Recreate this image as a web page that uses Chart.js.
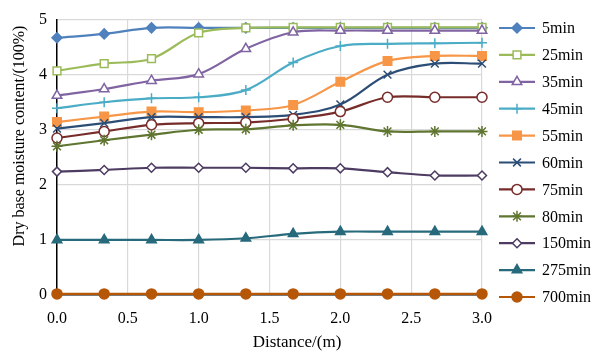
<!DOCTYPE html>
<html><head><meta charset="utf-8">
<script src="https://cdn.jsdelivr.net/npm/chart.js@4/dist/chart.umd.min.js"></script>
<style>html,body{margin:0;padding:0;background:#fff}#wrap{width:594px;height:352px}</style>
</head><body><div id="wrap"><canvas id="c" width="594" height="352"></canvas></div>
<script>
const distances = [0, 0.333, 0.667, 1.0, 1.333, 1.667, 2.0, 2.333, 2.667, 3.0];
const seriesNames = ['5min','25min','35min','45min','55min','60min','75min','80min','150min','275min','700min'];
const m5   = [4.67, 4.74, 4.85, 4.85, 4.85, 4.85, 4.85, 4.85, 4.85, 4.85];
const m25  = [4.07, 4.20, 4.29, 4.76, 4.85, 4.86, 4.86, 4.86, 4.86, 4.86];
const m35  = [3.62, 3.74, 3.89, 4.01, 4.47, 4.77, 4.80, 4.80, 4.80, 4.80];
const m45  = [3.39, 3.50, 3.57, 3.59, 3.72, 4.22, 4.52, 4.56, 4.57, 4.58];
const m55  = [3.14, 3.24, 3.33, 3.32, 3.35, 3.45, 3.87, 4.25, 4.34, 4.34];
const m60  = [3.02, 3.12, 3.23, 3.23, 3.23, 3.27, 3.46, 4.00, 4.20, 4.20];
const m75  = [2.85, 2.97, 3.09, 3.12, 3.13, 3.20, 3.33, 3.59, 3.59, 3.59];
const m80  = [2.70, 2.81, 2.91, 3.00, 3.01, 3.08, 3.09, 2.97, 2.97, 2.97];
const m150 = [2.24, 2.27, 2.31, 2.31, 2.31, 2.30, 2.30, 2.23, 2.17, 2.17];
const m275 = [1.00, 1.00, 1.00, 1.00, 1.03, 1.11, 1.15, 1.15, 1.15, 1.15];
const m700 = [0.02, 0.02, 0.02, 0.02, 0.02, 0.02, 0.02, 0.02, 0.02, 0.02];
const xTicks = [0, 0.5, 1.0, 1.5, 2.0, 2.5, 3.0];
const yTicks = [0, 1, 2, 3, 4, 5];
const xTitle = 'Distance/(m)';
const yTitle = 'Dry base moisture content/(100%)';

const allValues = [m5, m25, m35, m45, m55, m60, m75, m80, m150, m275, m700];
const styles = [
  {c:'#4F81BD', ps:'rectRot', r:5, fill:true},
  {c:'#9BBB59', ps:'rect', r:5.5, fill:false},
  {c:'#8064A2', ps:'triangle', r:5.5, fill:false},
  {c:'#4BACC6', ps:'cross', r:5, fill:false},
  {c:'#F79646', ps:'rect', r:6, fill:true},
  {c:'#2C4D75', ps:'crossRot', r:5.5, fill:false},
  {c:'#772C2A', ps:'circle', r:5, fill:false},
  {c:'#5F7530', ps:'star', r:5.5, fill:false},
  {c:'#4D3B62', ps:'rectRot', r:4.5, fill:false},
  {c:'#276A7C', ps:'triangle', r:5.5, fill:true},
  {c:'#B65708', ps:'circle', r:5, fill:true}
];
const SERIF = "'Liberation Serif', 'Times New Roman', serif";

const datasets = seriesNames.map((n, i) => ({
  label: n,
  data: distances.map((x, k) => ({x: x, y: allValues[i][k]})),
  borderColor: styles[i].c,
  backgroundColor: styles[i].c,
  pointBackgroundColor: styles[i].fill ? styles[i].c : '#ffffff',
  pointBorderColor: styles[i].c,
  pointBorderWidth: 1.5,
  pointStyle: styles[i].ps,
  pointRadius: styles[i].r,
  borderWidth: 2.2,
  tension: 0.35,
  clip: false,
  order: -i
}));

const legendPlugin = {
  id: 'customLegend',
  afterDraw(chart) {
    const ctx = chart.ctx;
    ctx.save();
    // axis titles
    ctx.fillStyle = '#000';
    ctx.textAlign = 'center';
    ctx.textBaseline = 'middle';
    ctx.font = "17px " + SERIF;
    ctx.fillText(xTitle, 297, 343);
    ctx.save();
    ctx.translate(20, 136);
    ctx.rotate(-Math.PI / 2);
    ctx.font = "16px " + SERIF;
    ctx.fillText(yTitle, 0, 0);
    ctx.restore();
    // legend
    const x0 = 499, x1 = 535, tx = 542;
    let y = 28;
    chart.data.datasets.forEach((ds, i) => {
      ctx.strokeStyle = ds.borderColor;
      ctx.lineWidth = 2.2;
      ctx.beginPath(); ctx.moveTo(x0, y); ctx.lineTo(x1, y); ctx.stroke();
      ctx.fillStyle = ds.pointBackgroundColor;
      ctx.strokeStyle = ds.pointBorderColor;
      ctx.lineWidth = 1.5;
      if (Chart.helpers && Chart.helpers.drawPoint) {
        Chart.helpers.drawPoint(ctx, {pointStyle: ds.pointStyle, radius: ds.pointRadius, rotation: 0, borderWidth: 1.5}, (x0+x1)/2, y);
      } else {
        ctx.beginPath(); ctx.arc((x0+x1)/2, y, ds.pointRadius, 0, Math.PI*2); ctx.fill(); ctx.stroke();
      }
      ctx.fillStyle = '#000';
      ctx.font = "16px " + SERIF;
      ctx.textBaseline = 'middle';
      ctx.textAlign = 'left';
      ctx.fillText(ds.label, tx, y + 1);
      y += 26.9;
    });
    ctx.restore();
  }
};

new Chart(document.getElementById('c'), {
  type: 'line',
  data: { datasets },
  options: {
    responsive: false,
    animation: false,
    events: [],
    layout: { padding: { left: 0, right: 112, top: 17, bottom: 0 } },
    plugins: { legend: { display: false }, tooltip: { enabled: false } },
    scales: {
      x: {
        type: 'linear', min: 0, max: 3,
        afterBuildTicks: s => { s.ticks = xTicks.map(v => ({value: v})); },
        afterFit: s => { s.height = 57; },
        grid: { color: '#D9D9D9', lineWidth: 1.2, drawTicks: false },
        border: { color: '#000', width: 1.5 },
        ticks: { padding: 14, color: '#000', font: { family: SERIF, size: 16 }, callback: v => Number(v).toFixed(1) },
        title: { display: false }
      },
      y: {
        min: 0, max: 5,
        afterBuildTicks: s => { s.ticks = yTicks.map(v => ({value: v})); },
        afterFit: s => { s.width = 57; },
        grid: { color: '#D9D9D9', lineWidth: 1.2, drawTicks: false },
        border: { color: '#000', width: 1.5 },
        ticks: { padding: 10, color: '#000', font: { family: SERIF, size: 16 }, callback: v => String(v) },
        title: { display: false }
      }
    }
  },
  plugins: [legendPlugin]
});
</script></body></html>
